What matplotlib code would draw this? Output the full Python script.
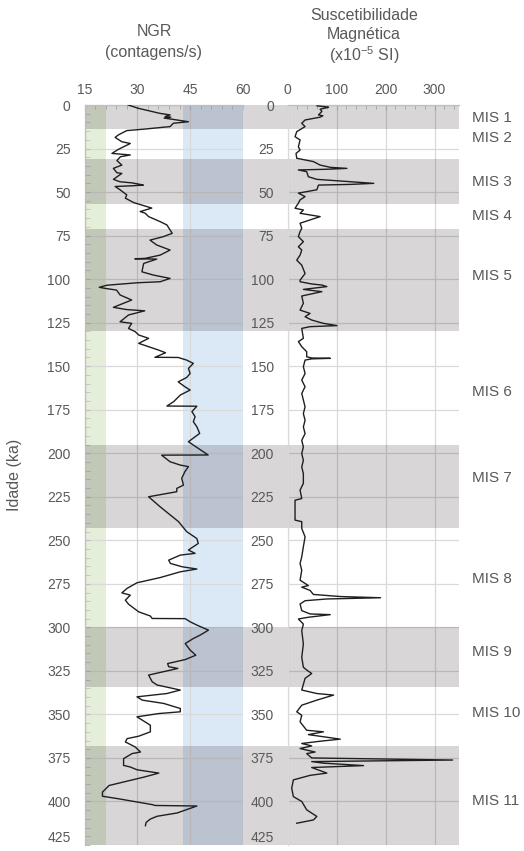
import matplotlib
matplotlib.use("Agg")
import matplotlib.pyplot as plt
from matplotlib.ticker import MultipleLocator
from matplotlib.transforms import blended_transform_factory

plt.rcParams["font.family"] = ["Liberation Sans", "DejaVu Sans"]
plt.rcParams["mathtext.fontset"] = "custom"
plt.rcParams["mathtext.rm"] = "Liberation Sans"
plt.rcParams["mathtext.default"] = "regular"

# --- NGR (counts/s) versus age (ka) ---
ngr_age = [0, 1.9, 4.8, 5.7, 6.6, 7.0, 7.5, 9.6, 10.5, 12.4, 13.9, 14.7, 17.2, 18.6,
           21.1, 22.1, 24.0, 25.5, 27.8, 28.3, 28.7, 29.7, 31.9, 34.5, 36.4, 38.9,
           39.3, 42.7, 44.1, 44.7, 45.4, 46.0, 46.4, 46.8, 48.7, 51.6, 53.5, 56.0,
           59.2, 61.2, 62.1, 64.1, 67.0, 68.9, 71.8, 73.7, 75.6, 77.6, 80.4, 83.3,
           86.2, 88.1, 88.3, 88.5, 91.0, 95.8, 97.7, 99.6, 101.5, 102.1, 103.5,
           104.7, 105.3, 106.3, 109.1, 112.0, 116.2, 117.5, 118.2, 120.6, 124.5,
           125.4, 128.3, 130.2, 132.1, 134.0, 136.9, 138.8, 140.8, 142.3, 144.9,
           145.0, 146.5, 148.4, 151.3, 154.2, 156.5, 159.0, 161.8, 163.7, 166.6,
           170.4, 172.9, 173.0, 176.1, 179.0, 181.9, 184.8, 188.6, 193.4, 195.3,
           201.0, 201.1, 204.9, 206.8, 207.7, 210.6, 214.4, 218.3, 220.2, 222.1,
           225.0, 230.8, 239.3, 245.0, 249.0, 251.8, 255.6, 257.5, 258.5, 261.4,
           263.3, 265.2, 266.5, 268.1, 271.4, 274.4, 277.6, 280.2, 281.5, 284.4,
           286.7, 291.1, 293.5, 294.9, 295.0, 296.8, 298.7, 301.6, 304.5, 306.4,
           309.3, 313.1, 316.0, 318.5, 320.8, 322.6, 323.6, 327.4, 331.2, 333.1,
           336.0, 338.0, 339.9, 341.8, 343.7, 346.6, 348.5, 349.5, 351.4, 356.2,
           360.0, 362.5, 363.9, 365.8, 368.7, 370.6, 371.6, 372.5, 375.4, 379.3,
           380.2, 381.8, 383.7, 386.0, 390.8, 394.6, 397.0, 398.5, 401.8, 402.3,
           402.6, 406.6, 408.5, 410.1, 412.0, 413.9]
ngr_val = [27.4, 30.3, 36.4, 39.3, 37.9, 39.5, 37.6, 44.5, 40.2, 39.3, 31.7, 27.0, 24.6, 23.7,
           25.6, 28.0, 26.1, 24.6, 22.8, 25.5, 28.0, 25.2, 24.2, 25.6, 23.2, 24.2,
           25.6, 23.2, 25.1, 28.4, 30.3, 31.7, 28.5, 23.7, 25.1, 27.0, 26.6, 28.9,
           34.1, 30.8, 32.2, 33.2, 36.5, 38.4, 39.3, 39.9, 37.4, 33.6, 35.5, 39.3,
           36.5, 32.2, 29.3, 35.5, 31.8, 31.3, 34.6, 39.3, 36.5, 29.9, 21.4,
           19.2, 20.8, 24.1, 25.1, 28.4, 23.2, 27.0, 32.1, 27.5, 25.1,
           28.4, 27.5, 29.4, 30.4, 33.2, 30.4, 33.2, 36.1, 38.0, 35.0,
           41.6, 44.0, 45.9, 44.5, 45.0, 44.0, 41.6, 43.5, 45.0, 42.2,
           40.3, 38.4, 46.9, 45.5, 46.4, 45.9, 46.9, 47.7, 44.5, 45.9,
           50.1, 36.9, 39.3, 42.2, 44.5, 43.5, 42.6, 43.1, 41.2, 41.2,
           33.2, 36.5, 41.7, 44.0, 46.9, 47.3, 44.5, 46.4, 42.2, 38.9,
           39.4, 42.7, 46.9, 42.2, 36.5, 29.9, 27.1, 25.6, 28.0, 26.6,
           27.5, 30.4, 33.7, 34.2, 43.6, 45.0, 46.9, 50.2, 47.8, 45.9,
           43.6, 45.0, 46.6, 43.6, 38.6, 38.9, 41.5, 33.2, 34.2, 35.6,
           42.2, 38.4, 29.9, 31.4, 37.5, 42.2, 42.2, 36.1, 29.9, 33.7,
           33.7, 30.4, 27.1, 26.6, 29.4, 30.4, 30.9, 28.5, 26.1, 26.1,
           28.0, 29.9, 36.1, 31.9, 22.0, 20.1, 20.1, 24.8, 34.2, 35.1,
           46.9, 41.3, 35.6, 33.7, 32.5, 32.3]

# --- Magnetic susceptibility (x10^-5 SI) versus age (ka) ---
sus_age = [0.5, 1.0, 1.3, 2.4, 3.7, 5.7, 6.2, 7.0, 8.6, 10.5, 12.4, 15.3, 18.2, 20.1,
           24.0, 25.9, 27.8, 30.6, 32.5, 34.5, 35.8, 36.4, 36.9, 37.3, 38.3, 41.2,
           42.7, 45.0, 45.6, 46.0, 48.7, 50.6, 52.6, 54.5, 56.4, 59.3, 60.3, 62.2,
           64.1, 66.0, 67.9, 70.8, 72.7, 75.6, 78.5, 81.4, 83.3, 86.2, 89.1, 92.0,
           96.8, 100.6, 101.5, 102.8, 103.4, 104.3, 105.9, 107.2, 109.7, 113.9,
           117.8, 119.7, 121.6, 123.5, 125.4, 126.7, 127.3, 128.3, 134.0, 135.9,
           138.8, 141.7, 144.6, 145.3, 145.5, 145.8, 146.5, 150.3, 154.2, 158.0,
           161.8, 165.7, 169.5, 173.4, 177.2, 181.1, 184.9, 188.7, 192.6, 196.4,
           200.2, 204.1, 207.9, 211.7, 217.3, 221.2, 226.0, 227.0, 238.4, 239.3,
           243.2, 248.0, 253.7, 259.5, 263.3, 267.2, 272.9, 276.0, 276.9, 278.8,
           281.1, 282.3, 283.0, 283.7, 284.7, 286.6, 290.4, 292.3, 292.7, 294.2,
           295.2, 298.1, 301.9, 309.5, 317.2, 322.9, 324.5, 326.5, 329.3, 336.0,
           338.0, 338.9, 341.8, 344.7, 348.5, 350.5, 354.3, 359.1, 360.0, 361.6,
           364.2, 365.4, 366.7, 368.1, 369.6, 371.6, 372.5, 375.0, 376.2, 377.1,
           378.0, 379.4, 380.5, 383.7, 385.0, 387.6, 392.4, 397.2, 400.0, 404.8,
           408.6, 410.6, 412.5]
sus_val = [60, 76.6, 83.4, 66.3, 69.8, 62.9, 71.9, 66, 35.5, 28.7, 35.5, 18.5, 15, 25.3,
           21.8, 25.3, 17, 18.5, 52.6, 66.3, 86.9, 121, 80.3, 21.8, 38.8, 42.2,
           59.5, 175.8, 128, 62.9, 59.5, 21.8, 35.5, 25.3, 21.8, 15, 32.1, 25.3,
           66.3, 45.7, 25.3, 28.7, 25.3, 21.8, 32.1, 21.8, 28.7, 25.3, 18.5, 28.7,
           35.5, 25.3, 25.3, 49.3, 69.8, 80, 32, 69.8, 28.7, 32,
           25.3, 45.7, 35.5, 49, 73, 100.6, 45.7, 28.7, 32, 21.8,
           28.7, 38.8, 38.8, 49, 86.9, 49, 35.5, 32, 35.5, 28.7,
           35.5, 28.7, 32, 35.5, 32, 35.5, 32, 35.5, 28.7, 32,
           28.7, 32, 28.7, 32, 32, 25.3, 28.7, 15, 15, 28.7,
           28.7, 35.5, 32, 28.7, 25.3, 28.7, 25.3, 42.2, 28.7, 45.7,
           52.5, 107.3, 189.7, 80, 35.5, 25.3, 28.7, 45.7, 86.9, 42.2,
           21.8, 32, 28.7, 32, 28.7, 32, 38.8, 49, 35.5, 28.7,
           59.5, 93.7, 59.5, 28.7, 18.5, 28.7, 25.3, 38.8, 73, 42.2,
           107.3, 66.3, 28.7, 49, 25.3, 56, 38.8, 49, 337, 49,
           73, 155, 49, 80, 45.7, 11.6, 8.2, 11.6, 28.7, 38.8,
           59.5, 52.6, 18.5]

# Marine isotope stages: glacial/interglacial shading and labels
mis_band_top = [0, 31, 71, 195, 300, 368]
mis_band_bottom = [14, 57, 130, 243, 334, 425]
mis_names = ["MIS 1", "MIS 2", "MIS 3", "MIS 4", "MIS 5", "MIS 6",
             "MIS 7", "MIS 8", "MIS 9", "MIS 10", "MIS 11"]
mis_label_age = [7.5, 19, 44, 64, 98, 165, 214, 272, 314, 349, 400]

# NGR reference ranges
ngr_low_range = (15, 21)
ngr_high_range = (43, 60)

age_ticks = list(range(0, 426, 25))
ngr_ticks = [15, 30, 45, 60]
sus_ticks = [0, 100, 200, 300]

TXT = "#595959"
GRID = "#d9d9d9"
SPINE = "#bfbfbf"
LINE = "#1f1f1f"
BAND = (0.07, 0.02, 0.045, 0.16)
TICK_FS = 10
TITLE_FS = 11.5

W, H = 524, 851
fig = plt.figure(figsize=(W / 100, H / 100), dpi=100)
fig.patch.set_facecolor("white")

top_px, bot_px = 105, 845
ax1_l, ax1_r = 84.5, 243.0
ax2_l, ax2_r = 287.7, 459.0


def rect(l, r):
    return [l / W, 1 - bot_px / H, (r - l) / W, (bot_px - top_px) / H]


# band in the gap between the two panels
axg = fig.add_axes(rect(ax1_r, ax2_l), zorder=0)
axg.set_ylim(425, 0)
axg.set_xlim(0, 1)
axg.axis("off")
for t, b in zip(mis_band_top, mis_band_bottom):
    axg.axhspan(t, b, color=BAND, lw=0)

ax1 = fig.add_axes(rect(ax1_l, ax1_r), zorder=1)
ax2 = fig.add_axes(rect(ax2_l, ax2_r), zorder=1)
ax1.patch.set_alpha(0)
ax2.patch.set_alpha(0)

for ax in (ax1, ax2):
    ax.set_ylim(425, 0)
    ax.set_yticks(age_ticks)
    ax.set_axisbelow(True)
    ax.grid(True, which="major", color=GRID, lw=0.9, zorder=0.5)
    ax.xaxis.tick_top()
    ax.tick_params(axis="x", which="both", direction="in", colors=SPINE,
                   labelcolor=TXT, labelsize=TICK_FS, pad=6)
    ax.tick_params(axis="x", which="major", length=3.5)
    ax.tick_params(axis="x", which="minor", length=3)
    for s in ("right", "bottom"):
        ax.spines[s].set_visible(False)
    for s in ("top", "left"):
        ax.spines[s].set_color(SPINE)
        ax.spines[s].set_linewidth(0.9)
    for t, b in zip(mis_band_top, mis_band_bottom):
        ax.axhspan(t, b, color=BAND, lw=0, zorder=1)

# NGR panel
ax1.set_xlim(15, 60)
ax1.set_xticks(ngr_ticks)
ax1.xaxis.set_minor_locator(MultipleLocator(3))
ax1.yaxis.set_minor_locator(MultipleLocator(5))
ax1.tick_params(axis="y", which="both", direction="in", length=3.5,
                colors=SPINE, labelcolor=TXT, labelsize=TICK_FS, pad=10)
ax1.axvspan(*ngr_low_range, color="#e4eed9", lw=0, zorder=0.2)
ax1.axvspan(*ngr_high_range, color="#dbe8f5", lw=0, zorder=0.2)
ax1.plot(ngr_val, ngr_age, color=LINE, lw=1.0, zorder=3)
ax1.set_ylabel("Idade (ka)", color=TXT, fontsize=TITLE_FS)
ax1.yaxis.set_label_coords(-(ax1_l - 22) / (ax1_r - ax1_l), 0.5)

# Magnetic susceptibility panel
ax2.set_xlim(0, 350)
ax2.set_xticks(sus_ticks)
ax2.xaxis.set_minor_locator(MultipleLocator(20))
ax2.tick_params(axis="y", which="both", length=0, labelcolor=TXT,
                labelsize=TICK_FS, pad=10)
ax2.spines["left"].set_color(GRID)
ax2.plot(sus_val, sus_age, color=LINE, lw=1.0, zorder=3)

# keep the lowest age label inside the figure
for ax in (ax1, ax2):
    ax.get_yticklabels()[-1].set_verticalalignment("bottom")

# Stage labels to the right of the susceptibility panel
tr = blended_transform_factory(ax2.transAxes, ax2.transData)
x_lab = (472 - ax2_l) / (ax2_r - ax2_l)
for name, age in zip(mis_names, mis_label_age):
    ax2.text(x_lab, age, name, transform=tr, ha="left", va="center",
             color=TXT, fontsize=11, clip_on=False)

# Panel titles
def ftext(xp, yp, s):
    fig.text(xp / W, 1 - yp / H, s, ha="center", va="center",
             color=TXT, fontsize=TITLE_FS)

ftext(154, 32, "NGR")
ftext(154, 53, "(contagens/s)")
ftext(364, 16, "Suscetibilidade")
ftext(364, 35, "Magnética")
ftext(364, 55, r"(x10$^{-5}$ SI)")

fig.savefig("out.png", dpi=100, facecolor="white")
